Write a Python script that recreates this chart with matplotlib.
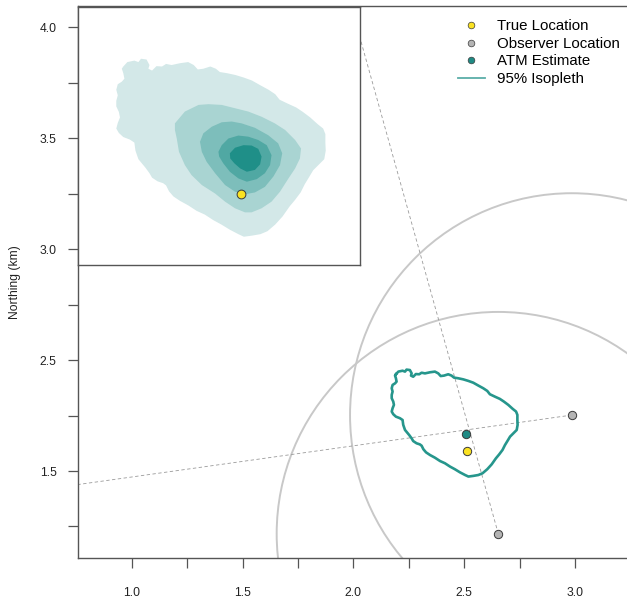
import numpy as np
import matplotlib
matplotlib.use("Agg")
import matplotlib.pyplot as plt
from matplotlib.patches import Polygon, Circle
from matplotlib.lines import Line2D

plt.rcParams['font.family'] = ['Liberation Sans', 'DejaVu Sans']

# locations (km)
true_x, true_y = 2.511, 2.090
atm_x, atm_y = 2.508, 2.165
obs_x = [2.985, 2.654]
obs_y = [2.252, 1.717]
obs_bearing = [262.0, 344.4]   # degrees clockwise from north
obs_dist = [1.0, 1.0]          # estimated distance (km)

# 95% isopleth
iso_x = [2.192, 2.203, 2.222, 2.233, 2.240, 2.255, 2.263, 2.260, 2.270, 2.282,
         2.297, 2.308, 2.323, 2.346, 2.368, 2.383, 2.394, 2.409, 2.428, 2.443,
         2.454, 2.473, 2.496, 2.519, 2.541, 2.564, 2.586, 2.604, 2.616, 2.639,
         2.661, 2.679, 2.699, 2.719, 2.734, 2.740, 2.740, 2.741, 2.737, 2.722,
         2.707, 2.695, 2.684, 2.673, 2.658, 2.643, 2.624, 2.604, 2.583, 2.564,
         2.541, 2.519, 2.504, 2.481, 2.458, 2.436, 2.413, 2.391, 2.368, 2.346,
         2.328, 2.316, 2.308, 2.300, 2.285, 2.270, 2.263, 2.252, 2.233, 2.225,
         2.222, 2.210, 2.192, 2.180, 2.173, 2.177, 2.183, 2.180, 2.173, 2.173,
         2.177, 2.173, 2.177, 2.188, 2.195, 2.192, 2.188]
iso_y = [2.436, 2.448, 2.452, 2.448, 2.457, 2.455, 2.440, 2.430, 2.425, 2.437,
         2.436, 2.443, 2.440, 2.445, 2.448, 2.440, 2.428, 2.430, 2.436, 2.430,
         2.421, 2.418, 2.413, 2.406, 2.398, 2.385, 2.373, 2.361, 2.346, 2.335,
         2.325, 2.313, 2.298, 2.280, 2.268, 2.253, 2.230, 2.208, 2.185, 2.170,
         2.155, 2.135, 2.117, 2.095, 2.075, 2.057, 2.030, 2.008, 1.990, 1.982,
         1.978, 1.975, 1.982, 1.994, 2.008, 2.020, 2.035, 2.045, 2.060, 2.072,
         2.084, 2.098, 2.114, 2.120, 2.125, 2.135, 2.147, 2.162, 2.185, 2.208,
         2.230, 2.238, 2.245, 2.256, 2.268, 2.283, 2.298, 2.313, 2.328, 2.343,
         2.358, 2.373, 2.388, 2.395, 2.403, 2.418, 2.430]

# inner utilisation contours shown in the inset
lvl2_x = [2.332, 2.359, 2.396, 2.423, 2.459, 2.495, 2.531, 2.567, 2.603, 2.631,
          2.658, 2.674, 2.671, 2.658, 2.640, 2.617, 2.594, 2.567, 2.540, 2.522,
          2.495, 2.468, 2.441, 2.405, 2.377, 2.359, 2.343, 2.337, 2.332]
lvl2_y = [2.282, 2.314, 2.332, 2.334, 2.332, 2.323, 2.314, 2.300, 2.282, 2.264,
          2.237, 2.214, 2.187, 2.160, 2.133, 2.097, 2.070, 2.052, 2.041, 2.041,
          2.052, 2.070, 2.092, 2.115, 2.142, 2.169, 2.205, 2.241, 2.264]
lvl3_x = [2.400, 2.409, 2.432, 2.459, 2.486, 2.513, 2.549, 2.585, 2.612, 2.623,
          2.617, 2.599, 2.576, 2.549, 2.522, 2.495, 2.468, 2.441, 2.418, 2.405]
lvl3_y = [2.232, 2.255, 2.273, 2.285, 2.287, 2.282, 2.270, 2.250, 2.228, 2.201,
          2.169, 2.138, 2.110, 2.095, 2.090, 2.097, 2.115, 2.147, 2.178, 2.205]
lvl4_x = [2.450, 2.459, 2.477, 2.504, 2.531, 2.558, 2.581, 2.594, 2.590, 2.576,
          2.554, 2.527, 2.504, 2.481, 2.463, 2.452]
lvl4_y = [2.205, 2.223, 2.241, 2.249, 2.246, 2.237, 2.223, 2.196, 2.169, 2.147,
          2.131, 2.124, 2.133, 2.151, 2.174, 2.192]
lvl5_x = [2.481, 2.495, 2.518, 2.540, 2.558, 2.567, 2.563, 2.549, 2.527, 2.509,
          2.493, 2.482]
lvl5_y = [2.201, 2.216, 2.223, 2.222, 2.213, 2.192, 2.171, 2.156, 2.151, 2.160,
          2.174, 2.187]

x_ticks = [1.0, 1.5, 2.0, 2.5, 3.0]
x_labels = ['1.0', '1.5', '2.0', '2.5', '3.0']
y_ticks = [2.0, 2.5, 3.0, 3.5, 4.0]
y_labels = ['1.5', '2.5', '3.0', '3.5', '4.0']

legend_labels = ['True Location', 'Observer Location', 'ATM Estimate', '95% Isopleth']

TEAL = '#26968c'
YELLOW = '#fbe222'
GREY = '#b4b4b4'
EDGE = '#3a3a3a'
AXCOL = '#555555'
level_colors = ['#d3e8e8', '#a9d4d2', '#7dbebb', '#50a8a3', '#1f8f88']

fig = plt.figure(figsize=(6.27, 5.98), dpi=100)
ax = fig.add_axes([0.1249, 0.0664, 0.8751, 0.9231])
ax.set_xlim(0.759, 3.2346)
ax.set_ylim(1.6066, 4.0946)

# distance circles and bearing lines
for ox, oy, b, d in zip(obs_x, obs_y, obs_bearing, obs_dist):
    ax.add_patch(Circle((ox, oy), d, fill=False, ec='#c8c8c8', lw=1.4, zorder=1))
    rad = np.deg2rad(b)
    ax.plot([ox, ox + 6 * np.sin(rad)], [oy, oy + 6 * np.cos(rad)],
            color='#9a9a9a', lw=0.6, ls=(0, (4, 3)), zorder=2)

ax.plot(iso_x + iso_x[:1], iso_y + iso_y[:1], color=TEAL, lw=1.9, zorder=3)
ax.scatter(obs_x, obs_y, s=36, c=GREY, edgecolors=EDGE, linewidths=0.7, zorder=4)
ax.scatter([atm_x], [atm_y], s=36, c='#1f8a84', edgecolors=EDGE, linewidths=0.7, zorder=4)
ax.scatter([true_x], [true_y], s=36, c=YELLOW, edgecolors=EDGE, linewidths=0.7, zorder=4)

ax.set_xticks(x_ticks)
ax.set_xticklabels(x_labels)
ax.set_xticks([1.25, 1.75, 2.25, 2.75], minor=True)
ax.set_yticks(y_ticks)
ax.set_yticklabels(y_labels)
ax.set_yticks([1.75, 2.25, 2.75, 3.25, 3.75], minor=True)
ax.tick_params(which='both', direction='out', length=7, width=0.9, color=AXCOL,
               labelsize=8.7, labelcolor='#222222')
ax.tick_params(axis='x', which='major', pad=14)
ax.tick_params(axis='y', which='major', pad=8.5)
for side in ['left', 'bottom', 'top']:
    ax.spines[side].set_color(AXCOL)
    ax.spines[side].set_linewidth(1.0)
ax.spines['right'].set_visible(False)

fig.text(15 / 627, 1 - 282 / 598, 'Northing (km)', rotation=90,
         ha='center', va='center', fontsize=8.7, color='#222222')

handles = [
    Line2D([], [], ls='none', marker='o', ms=4.8, mfc=YELLOW, mec=EDGE, mew=0.5),
    Line2D([], [], ls='none', marker='o', ms=4.8, mfc=GREY, mec=EDGE, mew=0.5),
    Line2D([], [], ls='none', marker='o', ms=4.8, mfc='#1f8a84', mec=EDGE, mew=0.5),
    Line2D([], [], color='#5aaea8', lw=1.3),
]
fig.legend(handles, legend_labels, loc='upper left',
           bbox_to_anchor=(457.7 / 627, 1 - 19.5 / 598), frameon=False,
           fontsize=10.8, handlelength=1.8, handletextpad=0.85,
           labelspacing=0.23, borderpad=0, borderaxespad=0)

# inset: utilisation distribution
ins = fig.add_axes([0.1249, 0.5569, 0.4493, 0.4319])
ins.set_xlim(2.070, 2.834)
ins.set_ylim(1.8985, 2.598)
ins.set_facecolor('white')
levels = [(iso_x, iso_y), (lvl2_x, lvl2_y), (lvl3_x, lvl3_y),
          (lvl4_x, lvl4_y), (lvl5_x, lvl5_y)]
for (lx, ly), col in zip(levels, level_colors):
    ins.add_patch(Polygon(np.column_stack([lx, ly]), closed=True,
                          fc=col, ec='none'))
ins.scatter([true_x], [true_y], s=40, c=YELLOW, edgecolors=EDGE,
            linewidths=0.7, zorder=5)
ins.set_xticks([])
ins.set_yticks([])
for sp in ins.spines.values():
    sp.set_color(AXCOL)
    sp.set_linewidth(1.0)

fig.savefig('out.png', dpi=100)
